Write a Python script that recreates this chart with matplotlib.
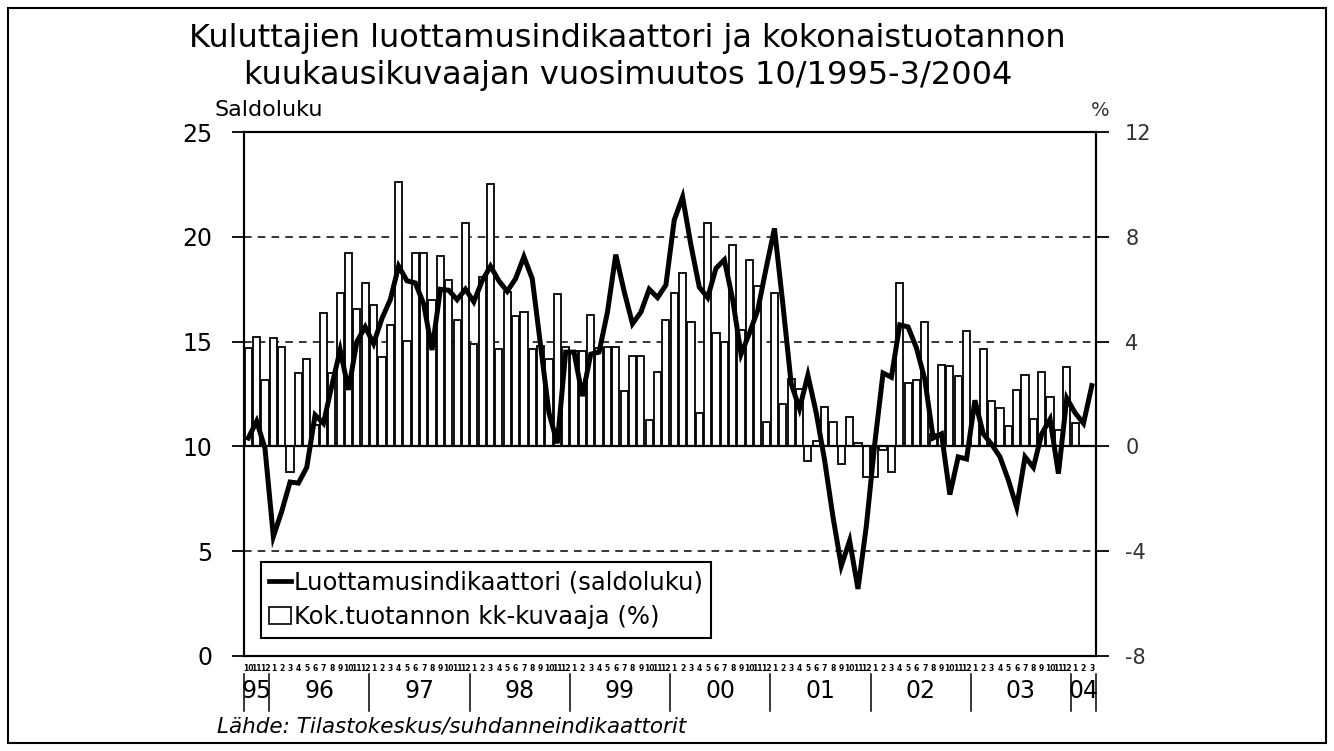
import matplotlib
matplotlib.use('Agg')
import matplotlib.pyplot as plt
import numpy as np
from matplotlib.lines import Line2D
from matplotlib.patches import Rectangle

# 10/1995 - 3/2004, one value per month
month_labels = ['10', '11', '12'] + [str(m) for m in range(1, 13)] * 8 + ['1', '2', '3']
year_labels = ['95', '96', '97', '98', '99', '00', '01', '02', '03', '04']
year_lengths = [3, 12, 12, 12, 12, 12, 12, 12, 12, 3]

# kuluttajien luottamusindikaattori (saldoluku), left axis
confidence = [10.4, 11.2, 9.9, 5.7, 6.9, 8.3, 8.25, 9.0, 11.5, 11.1, 12.9, 14.6,
              12.7, 15.0, 15.7, 14.9, 16.1, 17.0, 18.6, 17.9, 17.8, 16.8, 14.6, 17.5,
              17.45, 17.0, 17.5, 16.9, 17.9, 18.6, 17.9, 17.4, 18.0, 19.05, 18.0, 14.8,
              11.6, 10.15, 14.5, 14.5, 12.4, 14.4, 14.5, 16.4, 19.15, 17.4, 15.85, 16.4,
              17.5, 17.1, 17.7, 20.8, 21.9, 19.6, 17.6, 17.1, 18.5, 18.9, 17.0, 14.4,
              15.4, 16.5, 18.5, 20.4, 16.8, 13.0, 11.8, 13.4, 11.6, 9.35, 6.65, 4.3,
              5.5, 3.2, 6.2, 10.1, 13.5, 13.3, 15.8, 15.7, 14.7, 13.2, 10.4, 10.6,
              7.7, 9.5, 9.4, 12.2, 10.6, 10.1, 9.5, 8.4, 7.1, 9.5, 9.0, 10.6,
              11.3, 8.7, 12.3, 11.6, 11.1, 12.9]

# kokonaistuotannon kk-kuvaaja, vuosimuutos %, right axis
production = [3.74, 4.19, 2.54, 4.13, 3.81, -0.97, 2.79, 3.32, 0.8, 5.1, 2.82, 5.84,
              7.39, 5.23, 6.22, 5.4, 3.42, 4.63, 10.1, 4.04, 7.38, 7.38, 5.58, 7.28,
              6.36, 4.82, 8.51, 3.92, 6.48, 10.02, 3.72, 5.9, 4.96, 5.14, 3.71, 3.84,
              3.33, 5.82, 3.81, 3.66, 3.66, 5.02, 3.76, 3.8, 3.81, 2.1, 3.44, 3.44,
              1.02, 2.85, 4.83, 5.84, 6.62, 4.74, 1.26, 8.52, 4.33, 4.0, 7.7, 4.46,
              7.12, 6.11, 0.94, 5.84, 1.63, 2.56, 2.18, -0.56, 0.22, 1.5, 0.92, -0.67,
              1.12, 0.14, -1.18, -1.16, -0.14, -0.99, 6.22, 2.42, 2.54, 4.74, 0.48, 3.12,
              3.06, 2.7, 4.4, 1.28, 3.72, 1.74, 1.46, 0.77, 2.15, 2.74, 1.03, 2.85,
              1.9, 0.64, 3.02, 0.9, None, None]

left_ticks = [0, 5, 10, 15, 20, 25]
right_ticks = [-8, -4, 0, 4, 8, 12]


def main():
    plt.rcParams['font.family'] = ['DejaVu Sans']
    n = len(confidence)
    x = np.arange(n)
    prod = np.array([np.nan if v is None else v for v in production], dtype=float)

    fig = plt.figure(figsize=(13.34, 7.51), dpi=100)
    ax = fig.add_axes([0.183, 0.1265, 0.6386, 0.6977])
    ax2 = ax.twinx()
    ax.set_zorder(ax2.get_zorder() + 1)
    ax.patch.set_visible(False)

    # bars (right axis)
    for g in [8, 4, -4]:
        ax2.axhline(g, color='k', linestyle=(0, (5, 4)), linewidth=1.1, zorder=1)
    ax2.bar(x, prod, width=0.86, color='white', edgecolor='black', linewidth=1.3, zorder=2)
    ax2.axhline(0, color='k', linewidth=1.6, zorder=3)
    ax2.set_ylim(right_ticks[0], right_ticks[-1])
    ax2.set_yticks(right_ticks)
    ax2.set_yticklabels([str(t) for t in right_ticks], fontsize=15, color='#333333')
    ax2.tick_params(axis='y', direction='out', length=9, width=1.3, pad=12)

    # line (left axis)
    ax.plot(x, confidence, color='black', linewidth=3.6, solid_joinstyle='miter', zorder=4)
    ax.set_ylim(left_ticks[0], left_ticks[-1])
    ax.set_yticks(left_ticks)
    ax.set_yticklabels([str(t) for t in left_ticks], fontsize=17)
    ax.tick_params(axis='y', direction='out', length=9, width=1.3, pad=14)
    ax.set_xlim(-0.5, n - 0.5)
    ax.set_xticks([])
    for a in (ax, ax2):
        for s in a.spines.values():
            s.set_linewidth(1.5)

    # month / year labels under the axis
    tr = ax.get_xaxis_transform()
    for i, m in enumerate(month_labels):
        ax.text(i, -0.023, m, transform=tr, ha='center', va='center', fontsize=5.5, fontweight='bold')
    start = 0
    seps = [-0.5]
    for yl, ln in zip(year_labels, year_lengths):
        ax.text(start + (ln - 1) / 2., -0.067, yl, transform=tr, ha='center', va='center', fontsize=17)
        start += ln
        seps.append(start - 0.5)
    for s in seps:
        ax.add_line(Line2D([s, s], [-0.035, -0.105], transform=tr, color='k', linewidth=1.1, clip_on=False))

    handles = [Line2D([0], [0], color='black', linewidth=3.4),
               Rectangle((0, 0), 1, 1, facecolor='white', edgecolor='black', linewidth=1.2)]
    leg = ax.legend(handles, ['Luottamusindikaattori (saldoluku)', 'Kok.tuotannon kk-kuvaaja (%)'],
                    loc='lower left', bbox_to_anchor=(0.0196, 0.0344), borderaxespad=0,
                    fontsize=17.5, handlelength=0.9, handleheight=0.7, handletextpad=0.1,
                    borderpad=0.35, labelspacing=0.45, fancybox=False, framealpha=1,
                    edgecolor='black')
    leg.get_frame().set_linewidth(1.5)
    leg.set_zorder(10)

    fig.text(0.47, 0.949, 'Kuluttajien luottamusindikaattori ja kokonaistuotannon',
             ha='center', va='center', fontsize=23)
    fig.text(0.471, 0.899, 'kuukausikuvaajan vuosimuutos 10/1995-3/2004',
             ha='center', va='center', fontsize=23)
    fig.text(0.161, 0.853, 'Saldoluku', ha='left', va='center', fontsize=16)
    fig.text(0.818, 0.853, '%', ha='left', va='center', fontsize=14, color='#333333')
    fig.text(0.163, 0.032, 'Lähde: Tilastokeskus/suhdanneindikaattorit',
             ha='left', va='center', fontsize=15.5, style='italic')

    fig.add_artist(Rectangle((0.006, 0.0107), 0.988, 0.9787, transform=fig.transFigure,
                             fill=False, edgecolor='black', linewidth=1.5))
    fig.savefig('out.png', dpi=100)


if __name__ == '__main__':
    main()
